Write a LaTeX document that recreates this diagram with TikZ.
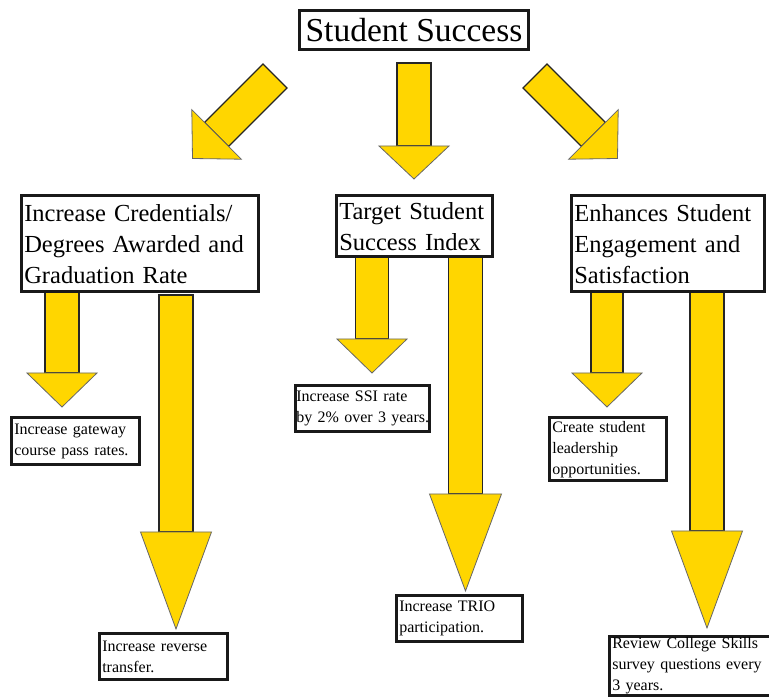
\documentclass[tikz,border=0pt]{standalone}
\usepackage{fontspec}
\setmainfont{Liberation Serif}
\usetikzlibrary{calc}

\definecolor{arrowgold}{RGB}{255,214,0}
\newcommand{\bigfont}{\fontsize{33.5}{38}\selectfont}
\newcommand{\midfont}{\fontsize{24.5}{31}\selectfont}
\newcommand{\smallfont}{\fontsize{16}{21}\selectfont}
% block arrow: start, tip, shaft half width, head half width, head length
\newcommand{\blockarrow}[5]{%
  \coordinate (hb) at ($(#2)!#5!(#1)$);
  \filldraw[arrowshaft] ($(#1)!#3!90:(#2)$) -- ($(hb)!#3!90:(#2)$)
    -- ($(hb)!#3!-90:(#2)$) -- ($(#1)!#3!-90:(#2)$) -- cycle;
  \filldraw[arrowhead] ($(hb)!#4!90:(#2)$) -- (#2) -- ($(hb)!#4!-90:(#2)$) -- cycle;
}

\tikzset{
  goalbox/.style={draw=black!90, line width=2.8pt, fill=white, align=left,
    anchor=north west, inner xsep=2.5pt, inner ysep=2pt, font=\midfont},
  stepbox/.style={goalbox, font=\smallfont},
  arrowshaft/.style={fill=arrowgold, draw=black!85, line width=1.2pt},
  arrowhead/.style={fill=arrowgold, draw=black!60, line width=0.8pt},
}

\begin{document}
\begin{tikzpicture}[x=1pt, y=-1pt]
  \useasboundingbox (0,0) rectangle (769,700);
  \clip (0,0) rectangle (769,700);

  % arrow ends
  \coordinate (credtop) at (275,76);    \coordinate (credtip) at (192.5,158.5);
  \coordinate (indextop) at (414,63);   \coordinate (indextip) at (414,179);
  \coordinate (satistop) at (535,76);   \coordinate (satistip) at (617.5,158.5);
  \coordinate (gatetop) at (62,292);    \coordinate (gatetip) at (62,407);
  \coordinate (revtop) at (176,295);    \coordinate (revtip) at (176,629);
  \coordinate (ssitop) at (372,257);    \coordinate (ssitip) at (372,373);
  \coordinate (triotop) at (465.5,257); \coordinate (triotip) at (465.5,591);
  \coordinate (leadtop) at (607,292);   \coordinate (leadtip) at (607,407);
  \coordinate (reviewtop) at (707,292); \coordinate (reviewtip) at (707,628);

  \blockarrow{credtop}{credtip}{17pt}{35pt}{34pt}
  \blockarrow{indextop}{indextip}{17pt}{35pt}{33pt}
  \blockarrow{satistop}{satistip}{17pt}{35pt}{34pt}
  \blockarrow{gatetop}{gatetip}{17pt}{35pt}{34pt}
  \blockarrow{revtop}{revtip}{17pt}{35.5pt}{97pt}
  \blockarrow{ssitop}{ssitip}{16.5pt}{35pt}{34pt}
  \blockarrow{triotop}{triotip}{17pt}{36pt}{97pt}
  \blockarrow{leadtop}{leadtip}{16pt}{35pt}{34pt}
  \blockarrow{reviewtop}{reviewtip}{17pt}{35.5pt}{97pt}

  \node[draw=black!90, line width=2.8pt, fill=white, inner sep=0pt, font=\bigfont,
    minimum width=229pt, minimum height=39pt] (top) at (414,30) {Student Success};

  \node[goalbox, text width=232pt, minimum height=96pt] (cred) at (20.4,194.4)
    {Increase Credentials/\\Degrees Awarded and\\Graduation Rate};
  \node[goalbox, text width=151pt, minimum height=61pt] (index) at (335.4,194.4)
    {Target Student\\Success Index};
  \node[goalbox, text width=188pt, minimum height=96pt] (satis) at (570.4,194.4)
    {Enhances Student\\Engagement and\\Satisfaction};

  \node[stepbox, text width=123pt, minimum height=47pt] (gate) at (10.4,416.4)
    {Increase gateway\\course pass rates.};
  \node[stepbox, text width=123pt, minimum height=46pt] (rev) at (98.4,632.4)
    {Increase reverse\\transfer.};
  \node[stepbox, text width=133pt, inner xsep=0.5pt, minimum height=46pt] (ssi) at (294.4,384.4)
    {Increase SSI rate\\by 2\% over 3 years.};
  \node[stepbox, text width=121pt, minimum height=46pt] (trio) at (395.4,594.4)
    {Increase TRIO\\participation.};
  \node[stepbox, text width=112pt, minimum height=63pt] (lead) at (548.4,416.4)
    {Create student\\leadership\\opportunities.};
  \node[stepbox, text width=172pt, inner ysep=1pt] (review) at (608.4,635.4)
    {Review College Skills\\survey questions every\\3 years.};
\end{tikzpicture}
\end{document}
